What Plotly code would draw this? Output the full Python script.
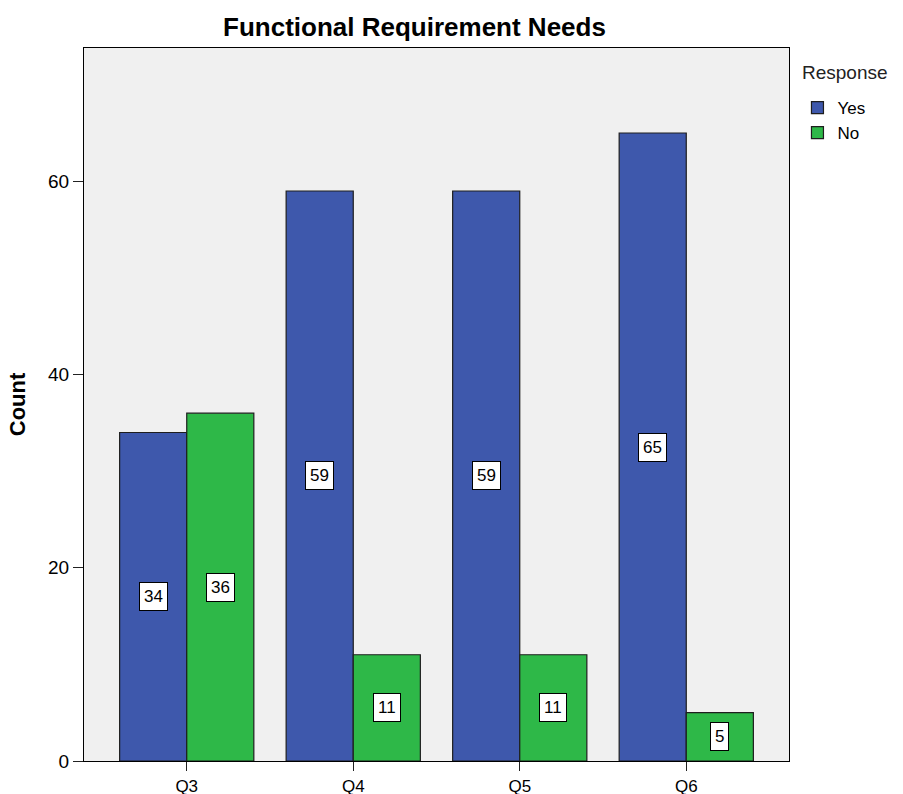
import plotly.graph_objects as go

categories = ["Q3", "Q4", "Q5", "Q6"]
yes_counts = [34, 59, 59, 65]
no_counts = [36, 11, 11, 5]
y_ticks = [0, 20, 40, 60]

BLUE = "#3e58ac"
GREEN = "#2eb848"
EDGE = "#1e1e1e"
BARGAP = 0.194
FONT = "Liberation Sans, Arial, sans-serif"

fig = go.Figure()
fig.add_trace(go.Bar(name="Yes", x=categories, y=yes_counts,
                     marker=dict(color=BLUE, line=dict(color=EDGE, width=1.2))))
fig.add_trace(go.Bar(name="No", x=categories, y=no_counts,
                     marker=dict(color=GREEN, line=dict(color=EDGE, width=1.2))))

# value labels boxed at the middle of each bar
half = (1 - BARGAP) / 4
for series, off in ((yes_counts, -half), (no_counts, half)):
    for i, v in enumerate(series):
        fig.add_annotation(x=i + off, y=v / 2, xref="x", yref="y", text=str(v),
                           showarrow=False, bgcolor="white", bordercolor="black",
                           borderwidth=1, borderpad=4,
                           font=dict(family=FONT, size=17, color="black"))

# legend heading
fig.add_annotation(x=1.016, y=1 - 24 / 713, xref="paper", yref="paper", text="Response",
                   showarrow=False, xanchor="left", yanchor="middle",
                   font=dict(family=FONT, size=19, color="#222"))

fig.update_layout(
    width=903, height=794,
    margin=dict(l=84, r=114, t=48, b=33),
    paper_bgcolor="white", plot_bgcolor="#f0f0f0",
    barmode="group", bargap=BARGAP, bargroupgap=0,
    title=dict(text="<b>Functional Requirement Needs</b>", x=0.459, xanchor="center",
               y=0.966, yanchor="middle",
               font=dict(family=FONT, size=26, color="black")),
    legend=dict(x=1.012, y=1 - 42 / 713, xanchor="left", yanchor="top",
                font=dict(family=FONT, size=17, color="black"),
                tracegroupgap=0, itemwidth=30),
    font=dict(family=FONT, color="black"),
)
fig.update_xaxes(type="category", range=[-0.617, 3.617], showline=True, linecolor="black",
                 linewidth=1.2, mirror=True, ticks="outside", ticklen=9, tickcolor="#222",
                 tickfont=dict(family=FONT, size=17), showgrid=False, automargin=False)
fig.update_yaxes(range=[0, 73.8], tickvals=y_ticks, showline=True, linecolor="black",
                 linewidth=1.2, mirror=True, ticks="outside", ticklen=10, tickcolor="#222",
                 tickfont=dict(family=FONT, size=19), showgrid=False, zeroline=False,
                 automargin=False,
                 title=dict(text="<b>Count</b>", font=dict(family=FONT, size=22), standoff=16))

fig.write_html("out.html")
